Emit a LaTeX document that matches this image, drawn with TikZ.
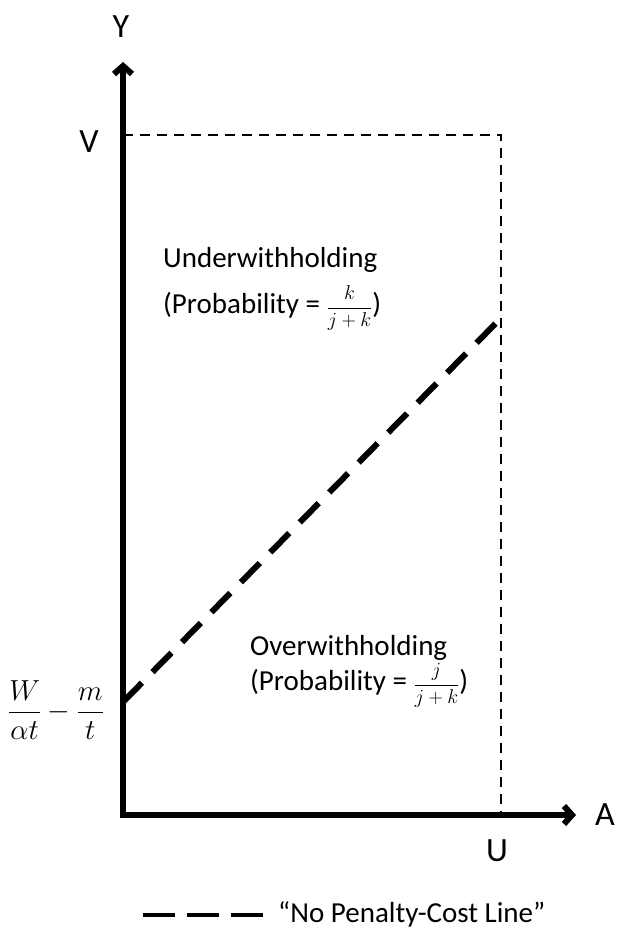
\documentclass[tikz,border=0pt]{standalone}
\usepackage{fix-cm}
\usepackage{fontspec}
\setmainfont{Carlito}
\usetikzlibrary{arrows.meta}
\newcommand{\probfrac}[2]{{\fontsize{20}{20}\selectfont$\displaystyle\frac{#1}{#2}$}}
\begin{document}
\begin{tikzpicture}[x=1pt, y=-1pt, >={Straight Barb[length=8pt, width=18pt]},
  axis/.style={line width=6pt},
  boxline/.style={line width=2.6pt, dash pattern=on 10pt off 7pt},
  costline/.style={line width=6pt, dash pattern=on 27pt off 15pt},
  axlabel/.style={font=\fontsize{34}{40}\selectfont, inner sep=0pt},
  txt/.style={font=\fontsize{29}{35}\selectfont, inner sep=0pt, anchor=base west}]
\useasboundingbox (0,0) rectangle (616,931);
\coordinate(O) at (123,815);
\coordinate(Ytip) at (123,62);
\coordinate(Atip) at (576,815);
\coordinate(Vy) at (123,135);
\coordinate(UV) at (501,135);
\coordinate(Ux) at (501,815);
\coordinate(C0) at (123,702);
\coordinate(C1) at (501,318);
\coordinate(L0) at (143,915);
\coordinate(L1) at (263,915);
% box and cost line
\draw[boxline](Vy)--(UV)--(Ux);
\draw[costline](C0)--(C1);
\draw[axis, <->, line join=miter](Ytip)--(O)--(Atip);
% labels
\node[axlabel](Ylab) at (121,27){Y};
\node[axlabel](Vlab) at (89,142){V};
\node[axlabel](Alab) at (605,815){A};
\node[axlabel](Ulab) at (497,851){U};
\node[font=\fontsize{29}{34}\selectfont, inner sep=0pt](Wlab) at (56,710){$\displaystyle\frac{W}{\alpha t}-\frac{m}{t}$};
\node[txt](U1) at (163,267){Underwithholding};
\node[txt](U2) at (163,313){(Probability = \probfrac{k}{j+k})};
\node[txt](O1) at (250,655){Overwithholding};
\node[txt](O2) at (250,690){(Probability = \probfrac{j}{j+k})};
% legend
\draw[costline, line width=4.5pt, dash pattern=on 32pt off 12pt](L0)--(L1);
\node[txt](leg) at (278,922){“No Penalty-Cost Line”};
\end{tikzpicture}
\end{document}
